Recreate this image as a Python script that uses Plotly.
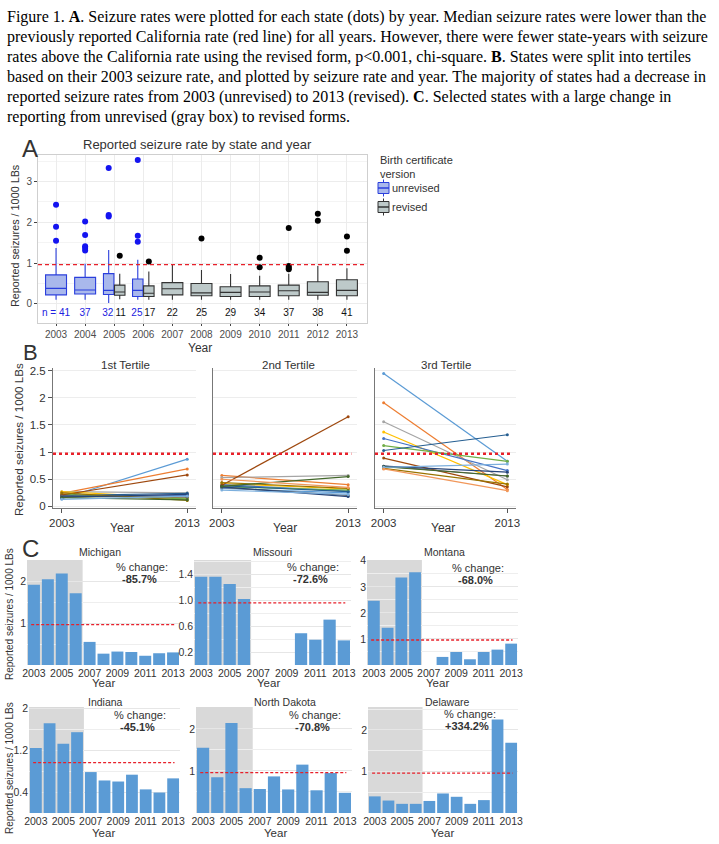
import plotly.graph_objects as go

W, H = 719, 844
def fx(p): return p / W
def fy(p): return 1 - p / H

SANS = "Liberation Sans, Arial, sans-serif"
SERIF = "Liberation Serif, Times New Roman, serif"

# ---------------- Panel A data ----------------
years = list(range(2003, 2014))
unrev_years = [2003, 2004, 2005, 2006]
unrev_q1 = [0.22, 0.24, 0.23, 0.18]
unrev_med = [0.38, 0.34, 0.33, 0.33]
unrev_q3 = [0.71, 0.65, 0.74, 0.61]
unrev_lo = [0.10, 0.10, 0.02, 0.10]
unrev_hi = [1.37, 0.98, 1.32, 1.08]
unrev_n = [41, 37, 32, 25]
unrev_out_year = [2003, 2003, 2003, 2004, 2004, 2004, 2004, 2004, 2005, 2005, 2005, 2006, 2006, 2006]
unrev_out_val = [2.43, 1.89, 1.55, 2.02, 1.69, 1.41, 1.37, 1.31, 3.33, 2.18, 2.14, 3.53, 1.67, 1.52]

rev_years = [2005, 2006, 2007, 2008, 2009, 2010, 2011, 2012, 2013]
rev_q1 = [0.21, 0.18, 0.22, 0.20, 0.18, 0.18, 0.20, 0.21, 0.20]
rev_med = [0.29, 0.26, 0.37, 0.27, 0.28, 0.29, 0.32, 0.28, 0.33]
rev_q3 = [0.46, 0.44, 0.52, 0.50, 0.42, 0.44, 0.46, 0.54, 0.59]
rev_lo = [0.11, 0.10, 0.10, 0.10, 0.10, 0.10, 0.10, 0.10, 0.10]
rev_hi = [0.74, 0.79, 0.96, 0.83, 0.73, 0.69, 0.74, 0.93, 0.87]
rev_n = [11, 17, 22, 25, 29, 34, 37, 38, 41]
rev_out_year = [2005, 2006, 2008, 2010, 2010, 2011, 2011, 2011, 2011, 2012, 2012, 2013, 2013]
rev_out_val = [1.18, 1.04, 1.60, 1.13, 0.90, 1.86, 0.93, 0.88, 0.85, 2.21, 2.04, 1.65, 1.30]

ca_rate = 0.96

# ---------------- Panel B data ----------------
tert_names = ["1st Tertile", "2nd Tertile", "3rd Tertile"]
tert1_2003 = [0.14, 0.24, 0.27, 0.27, 0.18, 0.22, 0.20, 0.21, 0.19, 0.25, 0.17, 0.16, 0.13]
tert1_2013 = [0.87, 0.69, 0.25, 0.15, 0.20, 0.14, 0.24, 0.58, 0.17, 0.11, 0.22, 0.12, 0.19]
tert2_2003 = [0.33, 0.57, 0.53, 0.42, 0.40, 0.36, 0.38, 0.39, 0.35, 0.44, 0.36, 0.37, 0.30, 0.50]
tert2_2013 = [0.25, 0.40, 0.57, 0.32, 0.28, 0.30, 0.27, 1.65, 0.20, 0.33, 0.18, 0.55, 0.22, 0.35]
tert3_2003 = [2.45, 1.91, 1.56, 1.37, 1.25, 1.12, 1.03, 0.89, 0.74, 0.70, 0.74, 0.73, 0.72, 0.69]
tert3_2013 = [0.83, 0.31, 0.49, 0.40, 0.66, 0.83, 1.32, 0.36, 0.56, 0.41, 0.63, 0.56, 0.78, 0.29]

# ---------------- Panel C data ----------------
c_states = ["Michigan", "Missouri", "Montana", "Indiana", "North Dakota", "Delaware"]
michigan = [1.91, 2.04, 2.18, 1.71, 0.55, 0.27, 0.32, 0.31, 0.22, 0.28, 0.30]
missouri = [1.36, 1.36, 1.25, 1.02, None, None, None, 0.49, 0.39, 0.70, 0.38]
montana = [2.47, 1.43, 3.36, 3.56, None, 0.31, 0.50, 0.22, 0.50, 0.59, 0.82]
indiana = [1.24, 1.71, 1.32, 1.54, 0.78, 0.62, 0.60, 0.73, 0.45, 0.39, 0.66]
north_dakota = [1.55, 0.85, 2.14, 0.59, 0.57, 0.87, 0.56, 1.15, 0.54, 0.95, 0.48]
delaware = [0.40, 0.30, 0.22, 0.22, 0.29, 0.47, 0.39, 0.22, 0.31, 2.25, 1.69]
c_values = [michigan, missouri, montana, indiana, north_dakota, delaware]
c_change = ["-85.7%", "-72.6%", "-68.0%", "-45.1%", "-70.8%", "+334.2%"]
c_tickvals = [[1, 2], [0.2, 0.6, 1.0, 1.4], [1, 2, 3, 4], [0.4, 1.2, 2.0], [1, 2], [1, 2]]
c_ticktext = [["1", "2"], ["0.2", "0.6", "1.0", "1.4"], ["1", "2", "3", "4"], ["0.4", "1.2", "2"],
              ["1", "2"], ["1", "2"]]
unrevised_last = 2006

caption = [
    "Figure 1. <b>A</b>. Seizure rates were plotted for each state (dots) by year. Median seizure rates were lower than the",
    "previously reported California rate (red line) for all years. However, there were fewer state-years with seizure",
    "rates above the California rate using the revised form, p&lt;0.001, chi-square. <b>B</b>. States were split into tertiles",
    "based on their 2003 seizure rate, and plotted by seizure rate and year. The majority of states had a decrease in",
    "reported seizure rates from 2003 (unrevised) to 2013 (revised). <b>C</b>. Selected states with a large change in",
    "reporting from unrevised (gray box) to revised forms.",
]

palette = ["#5b9bd5", "#ed7d31", "#a5a5a5", "#ffc000", "#4472c4", "#70ad47", "#255e91",
           "#9e480e", "#636363", "#997300", "#264478", "#43682b", "#7cafdd", "#f1975a"]

fig = go.Figure()
annotations = []
shapes = []

def ann(text, x, y, size=12, color="#222", xanchor="center", yanchor="middle", family=SANS, textangle=0,
        align="center"):
    annotations.append(dict(text=text, x=fx(x), y=fy(y), xref="paper", yref="paper",
                            showarrow=False, xanchor=xanchor, yanchor=yanchor, textangle=textangle,
                            align=align, font=dict(size=size, color=color, family=family)))

# ---------------- Caption ----------------
for i, line in enumerate(caption):
    ann(line, 5, 16.7 + 20 * i, size=16, color="#000", xanchor="left", family=SERIF)

# ---------------- Panel A ----------------
DODGE = 0.19
TXT_DODGE = 0.22
both = set(unrev_years) & set(rev_years)
U_FILL, U_LINE, U_PT = "#a9b8ec", "#2b3fdc", "#1414f0"
R_FILL, R_LINE, R_PT = "#bdc9c9", "#333333", "#000000"

def add_boxes(yrs, q1, med, q3, lo, hi, fill, line, name, shift):
    groups = {True: [], False: []}
    for i, y in enumerate(yrs):
        groups[y in both].append(i)
    for dodged, idx in groups.items():
        if not idx:
            continue
        fig.add_trace(go.Box(
            x=[yrs[i] + (shift if dodged else 0) for i in idx],
            q1=[q1[i] for i in idx], median=[med[i] for i in idx], q3=[q3[i] for i in idx],
            lowerfence=[lo[i] for i in idx], upperfence=[hi[i] for i in idx],
            width=0.36 if dodged else 0.72, whiskerwidth=0, boxpoints=False,
            fillcolor=fill, line=dict(color=line, width=1.1), name=name,
            showlegend=False, xaxis="x", yaxis="y", hoverinfo="skip"))

add_boxes(unrev_years, unrev_q1, unrev_med, unrev_q3, unrev_lo, unrev_hi, U_FILL, U_LINE, "unrevised", -DODGE)
add_boxes(rev_years, rev_q1, rev_med, rev_q3, rev_lo, rev_hi, R_FILL, R_LINE, "revised", DODGE)

fig.add_trace(go.Scatter(x=[y - DODGE if y in both else y for y in unrev_out_year], y=unrev_out_val,
                         mode="markers", marker=dict(color=U_PT, size=6), showlegend=False,
                         xaxis="x", yaxis="y", hoverinfo="skip"))
fig.add_trace(go.Scatter(x=[y + DODGE if y in both else y for y in rev_out_year], y=rev_out_val,
                         mode="markers", marker=dict(color=R_PT, size=6), showlegend=False,
                         xaxis="x", yaxis="y", hoverinfo="skip"))
fig.add_trace(go.Scatter(x=[y - TXT_DODGE if y in both else y for y in unrev_years], y=[-0.23] * len(unrev_years),
                         text=["n = %d" % unrev_n[0]] + [str(n) for n in unrev_n[1:]], mode="text",
                         textfont=dict(color="#2020e0", size=10, family=SANS), showlegend=False,
                         xaxis="x", yaxis="y", hoverinfo="skip"))
fig.add_trace(go.Scatter(x=[y + TXT_DODGE if y in both else y for y in rev_years], y=[-0.23] * len(rev_years),
                         text=[str(n) for n in rev_n], mode="text",
                         textfont=dict(color="#111", size=10, family=SANS), showlegend=False,
                         xaxis="x", yaxis="y", hoverinfo="skip"))
shapes.append(dict(type="line", xref="x domain", yref="y", x0=0, x1=1, y0=ca_rate, y1=ca_rate,
                   line=dict(color="#e8202a", width=1.2, dash="4px,3px")))

ann("A", 30, 148, size=24, color="#333")
ann("Reported seizure rate by state and year", 197, 144, size=13, color="#333")
ann("Reported seizures / 1000 LBs", 15, 236, size=10.8, color="#333", textangle=-90)
ann("Year", 200, 347.5, size=12, color="#333")

# legend (manual, box-glyph style)
ann("Birth certificate<br>version", 378, 152, size=11, color="#333", xanchor="left", yanchor="top", align="left")
for (lab, fill, line, cy) in [("unrevised", U_FILL, U_LINE, 188), ("revised", R_FILL, R_LINE, 207)]:
    shapes.append(dict(type="line", xref="paper", yref="paper", x0=fx(383.5), x1=fx(383.5), y0=fy(cy - 8.5),
                       y1=fy(cy + 8.5), line=dict(color=line, width=1)))
    shapes.append(dict(type="rect", xref="paper", yref="paper", x0=fx(378), x1=fx(389), y0=fy(cy - 5.5),
                       y1=fy(cy + 5.5), fillcolor=fill, line=dict(color=line, width=1)))
    shapes.append(dict(type="line", xref="paper", yref="paper", x0=fx(378), x1=fx(389), y0=fy(cy),
                       y1=fy(cy), line=dict(color=line, width=1.5)))
    ann(lab, 390, cy, size=11, color="#333", xanchor="left")

layout_axes = {}
layout_axes["xaxis"] = dict(domain=[fx(38), fx(367)], range=[2002.38, 2013.69], anchor="y",
                            tickvals=years, ticks="outside", ticklen=2, tickcolor="#444",
                            showgrid=True, gridcolor="#ececec", showline=True, mirror=True,
                            linecolor="#cfcfcf", zeroline=False, automargin=False,
                            tickfont=dict(size=10, color="#4d4d4d", family=SANS))
layout_axes["yaxis"] = dict(domain=[fy(323), fy(155)], range=[-0.47, 3.65], anchor="x",
                            tickvals=[0, 1, 2, 3], ticks="outside", ticklen=3, tickcolor="#444",
                            showgrid=True, gridcolor="#ececec", showline=True, mirror=True,
                            linecolor="#cfcfcf", zeroline=False, automargin=False,
                            minor=dict(dtick=0.5, tick0=0, showgrid=True, gridcolor="#f4f4f4"),
                            tickfont=dict(size=10, color="#4d4d4d", family=SANS))

# ---------------- Panel B ----------------
b_x = [(53, 196), (213, 357), (375, 516)]
b_title_x = [125, 288, 446]
b_data = [(tert1_2003, tert1_2013), (tert2_2003, tert2_2013), (tert3_2003, tert3_2013)]
for k in range(3):
    xa, ya = "x%d" % (k + 2), "y%d" % (k + 2)
    v03, v13 = b_data[k]
    for i in range(len(v03)):
        fig.add_trace(go.Scatter(x=[2003, 2013], y=[v03[i], v13[i]], mode="lines+markers",
                                 line=dict(color=palette[i], width=1.2), marker=dict(color=palette[i], size=3),
                                 showlegend=False, xaxis=xa, yaxis=ya, hoverinfo="skip"))
    shapes.append(dict(type="line", xref=xa, yref=ya, x0=2002.3, x1=2013.25, y0=0.97, y1=0.97,
                       line=dict(color="#e8202a", width=2.6, dash="dot")))
    layout_axes["xaxis%d" % (k + 2)] = dict(domain=[fx(b_x[k][0]), fx(b_x[k][1])], range=[2002.3, 2013.7],
                                            anchor=ya, tickvals=[2003, 2013], ticks="outside", ticklen=4,
                                            tickcolor="#555", showgrid=False, showline=True, linecolor="#777",
                                            zeroline=False, automargin=False,
                                            tickfont=dict(size=11.5, color="#333", family=SANS))
    layout_axes["yaxis%d" % (k + 2)] = dict(domain=[fy(508), fy(368)], range=[-0.03, 2.55], anchor=xa,
                                            tickvals=[0, 0.5, 1, 1.5, 2, 2.5],
                                            ticktext=["0", "0.5", "1", "1.5", "2", "2.5"],
                                            ticks="outside" if k == 0 else "", ticklen=4, tickcolor="#555",
                                            showticklabels=(k == 0), showgrid=True, gridcolor="#ededed",
                                            showline=True, linecolor="#777", zeroline=False, automargin=False,
                                            tickfont=dict(size=11.5, color="#333", family=SANS))
    ann(tert_names[k], b_title_x[k], 365, size=11.5, color="#333")
    ann("Year", b_title_x[k] - 3, 528, size=12, color="#333")

ann("B", 30, 352, size=22, color="#333")
ann("Reported seizures / 1000 LBs", 18, 440, size=11.6, color="#333", textangle=-90)

# ---------------- Panel C ----------------
c_x = [(27, 180), (194, 351), (367, 518), (29, 180), (196, 352), (368, 518)]
c_y = [(560, 665), (560, 665), (560, 665), (707, 813), (707, 813), (707, 813)]
c_range = [(0, 2.5), (0, 1.62), (0, 4.03), (0, 2.02), (0, 2.52), (0, 2.55)]
c_minor = [0.5, 0.2, 0.5, 0.4, 0.5, 0.5]
c_title = [(100, 552), (272, 552), (444, 552), (105, 702), (285, 702), (447, 702)]
c_year = [(103, 683), (268, 683), (437, 683), (103, 833), (275, 833), (442, 833)]
c_pct = [(142, 567), (313, 567), (478, 568), (140, 715), (315, 715), (470, 714)]
for k in range(6):
    xa, ya = "x%d" % (k + 5), "y%d" % (k + 5)
    fig.add_trace(go.Bar(x=years, y=c_values[k], marker=dict(color="#5b9bd5", line=dict(width=0)), width=0.86,
                         showlegend=False, xaxis=xa, yaxis=ya, hoverinfo="skip"))
    shapes.append(dict(type="rect", xref=xa, yref=ya + " domain", x0=years[0] - 0.5, x1=unrevised_last + 0.5,
                       y0=0, y1=1, fillcolor="#d9d9d9", line=dict(width=0), layer="below"))
    shapes.append(dict(type="line", xref=xa, yref=ya, x0=2002.8, x1=2013.1, y0=ca_rate, y1=ca_rate,
                       line=dict(color="#e8202a", width=1.3, dash="3px,2px")))
    layout_axes["xaxis%d" % (k + 5)] = dict(domain=[fx(c_x[k][0]), fx(c_x[k][1])], range=[2002.5, 2013.5],
                                            anchor=ya, tickvals=years[::2], ticks="", showgrid=False,
                                            showline=False, zeroline=False, automargin=False,
                                            tickfont=dict(size=10.5, color="#333", family=SANS))
    layout_axes["yaxis%d" % (k + 5)] = dict(domain=[fy(c_y[k][1]), fy(c_y[k][0])], range=list(c_range[k]),
                                            anchor=xa, tickvals=c_tickvals[k], ticktext=c_ticktext[k], ticks="",
                                            showgrid=True, gridcolor="#e6e6e6", showline=False, zeroline=False,
                                            automargin=False,
                                            minor=dict(dtick=c_minor[k], tick0=0, showgrid=True,
                                                       gridcolor="#eeeeee"),
                                            tickfont=dict(size=10.5, color="#333", family=SANS))
    ann(c_states[k], c_title[k][0], c_title[k][1], size=10.5, color="#333")
    ann("Year", c_year[k][0], c_year[k][1], size=11.5, color="#333")
    ann("% change:", c_pct[k][0], c_pct[k][1], size=11, color="#333")
    ann("<b>" + c_change[k] + "</b>", c_pct[k][0] - 3, c_pct[k][1] + 12, size=11, color="#333")

ann("C", 30, 548, size=24, color="#333")
ann("Reported seizures / 1000 LBs", 9, 614, size=10, color="#333", textangle=-90)
ann("Reported seizures / 1000 LBs", 9, 768, size=10, color="#333", textangle=-90)

fig.update_layout(
    width=W, height=H, margin=dict(l=0, r=0, t=0, b=0, autoexpand=False),
    paper_bgcolor="white", plot_bgcolor="white",
    boxmode="overlay", showlegend=False,
    annotations=annotations, shapes=shapes,
    **layout_axes,
)

fig.write_html("out.html", config={"displayModeBar": False},
               post_script="document.body.style.margin='0px';document.body.style.overflow='hidden';")
